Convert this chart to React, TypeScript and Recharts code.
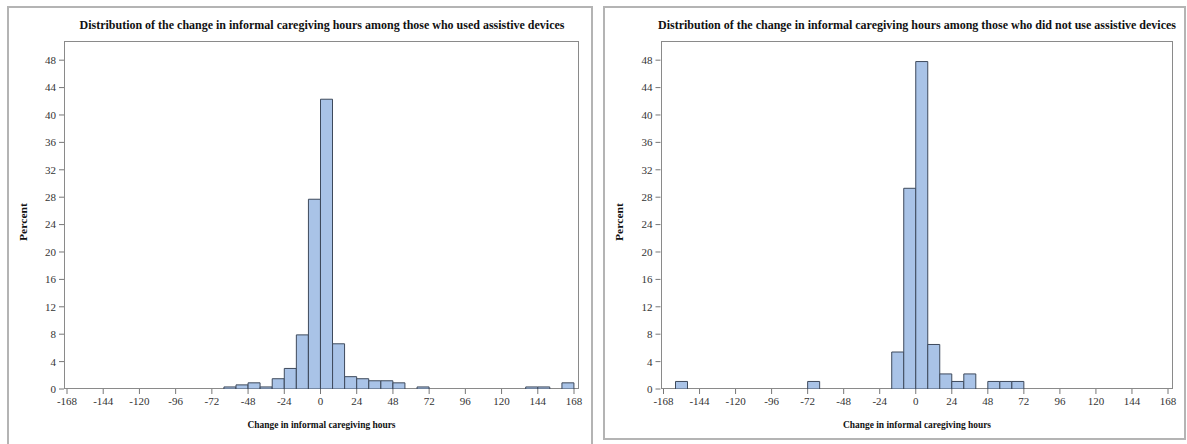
import { Bar, BarChart, XAxis, YAxis } from "recharts";

// 8-hour bins, labelled by their lower edge
const binStarts = [
  -168, -160, -152, -144, -136, -128, -120, -112, -104, -96, -88, -80, -72, -64, -56, -48, -40, -32, -24, -16, -8,
  0, 8, 16, 24, 32, 40, 48, 56, 64, 72, 80, 88, 96, 104, 112, 120, 128, 136, 144, 152, 160,
];

const xTicks = [-168, -144, -120, -96, -72, -48, -24, 0, 24, 48, 72, 96, 120, 144, 168];
const yTicks = [0, 4, 8, 12, 16, 20, 24, 28, 32, 36, 40, 44, 48];

// used assistive devices
const usedBins = [-64, -56, -48, -40, -32, -24, -16, -8, 0, 8, 16, 24, 32, 40, 48, 64, 136, 144, 160];
const usedPercent = [0.3, 0.6, 0.9, 0.3, 1.5, 3.0, 7.9, 27.7, 42.3, 6.6, 1.8, 1.5, 1.2, 1.2, 0.9, 0.3, 0.3, 0.3, 0.9];

// did not use assistive devices
const notUsedBins = [-160, -72, -16, -8, 0, 8, 16, 24, 32, 48, 56, 64];
const notUsedPercent = [1.1, 1.1, 5.4, 29.3, 47.8, 6.5, 2.2, 1.1, 2.2, 1.1, 1.1, 1.1];

type Row = { start: number; percent: number };

function toTable(bins: number[], pct: number[]): Row[] {
  return binStarts.map((start) => {
    const i = bins.indexOf(start);
    return { start, percent: i >= 0 ? pct[i] : 0 };
  });
}

const FONT = "'Liberation Serif', 'Times New Roman', serif";
const tickStyle = { fill: "#333", fontSize: 11, fontFamily: FONT };

type PanelProps = {
  data: Row[];
  chartLeft: number;
  chartWidth: number;
  marginLeft: number;
  marginRight: number;
};

function HistPanel({ data, chartLeft, chartWidth, marginLeft, marginRight }: PanelProps) {
  return (
    <div style={{ position: "absolute", left: chartLeft, top: 0 }}>
      <BarChart
        width={chartWidth}
        height={444}
        data={data}
        barCategoryGap={0}
        barGap={0}
        margin={{ top: 41, right: marginRight, left: marginLeft, bottom: 25 }}
      >
        {/* band axis used only to place the bins */}
        <XAxis xAxisId="bins" dataKey="start" type="category" orientation="top" hide padding={{ left: 3, right: 5 }} />
        <XAxis
          xAxisId="num"
          dataKey="start"
          type="number"
          domain={[-168, 168]}
          allowDataOverflow
          ticks={xTicks}
          interval={0}
          height={30}
          padding={{ left: 3, right: 5 }}
          axisLine={false}
          tickLine={{ stroke: "#777" }}
          tickSize={5}
          tickMargin={3}
          tick={tickStyle}
        />
        <YAxis
          type="number"
          domain={[0, 50.8]}
          allowDataOverflow
          ticks={yTicks}
          interval={0}
          width={40}
          axisLine={false}
          tickLine={{ stroke: "#777" }}
          tickSize={5}
          tickMargin={3}
          tick={tickStyle}
        />
        <Bar
          xAxisId="bins"
          dataKey="percent"
          fill="#a9c3e7"
          stroke="#3e4a5c"
          strokeWidth={1}
          isAnimationActive={false}
        />
      </BarChart>
    </div>
  );
}

export default function App() {
  const usedData = toTable(usedBins, usedPercent);
  const notUsedData = toTable(notUsedBins, notUsedPercent);

  return (
    <div
      style={{
        position: "absolute",
        left: 0,
        top: 0,
        width: 1187,
        height: 444,
        overflow: "hidden",
        background: "#fff",
        fontFamily: FONT,
      }}
    >
      {/* outer panel borders */}
      <div style={{ position: "absolute", left: 7, top: 6, width: 586, height: 450, border: "2px solid #b4b4b4", boxSizing: "border-box" }} />
      <div style={{ position: "absolute", left: 603, top: 6, width: 583, height: 434, border: "2px solid #b4b4b4", boxSizing: "border-box" }} />

      {/* plot frames */}
      <div style={{ position: "absolute", left: 64, top: 41, width: 515, height: 348, border: "1px solid #8a8a8a", boxSizing: "border-box" }} />
      <div style={{ position: "absolute", left: 660.5, top: 41, width: 512.5, height: 348, border: "1px solid #8a8a8a", boxSizing: "border-box" }} />

      <HistPanel data={usedData} chartLeft={0} chartWidth={594} marginLeft={24} marginRight={15} />
      <HistPanel data={notUsedData} chartLeft={594} chartWidth={593} marginLeft={26.5} marginRight={14} />

      <svg width={1187} height={444} style={{ position: "absolute", left: 0, top: 0, pointerEvents: "none" }}>
        <g fontFamily={FONT} fontWeight="bold" fill="#111">
          <text x={322} y={29} fontSize={13} textAnchor="middle" textLength={485} lengthAdjust="spacingAndGlyphs">
            Distribution of the change in informal caregiving hours among those who used assistive devices
          </text>
          <text x={917} y={29} fontSize={13} textAnchor="middle" textLength={518} lengthAdjust="spacingAndGlyphs">
            Distribution of the change in informal caregiving hours among those who did not use assistive devices
          </text>
          <text x={321.5} y={428} fontSize={11} textAnchor="middle" textLength={148} lengthAdjust="spacingAndGlyphs">
            Change in informal caregiving hours
          </text>
          <text x={917} y={428} fontSize={11} textAnchor="middle" textLength={148} lengthAdjust="spacingAndGlyphs">
            Change in informal caregiving hours
          </text>
          <text x={27} y={222} fontSize={11} textAnchor="middle" transform="rotate(-90 27 222)" textLength={38} lengthAdjust="spacingAndGlyphs">
            Percent
          </text>
          <text x={623} y={222} fontSize={11} textAnchor="middle" transform="rotate(-90 623 222)" textLength={38} lengthAdjust="spacingAndGlyphs">
            Percent
          </text>
        </g>
      </svg>
    </div>
  );
}
